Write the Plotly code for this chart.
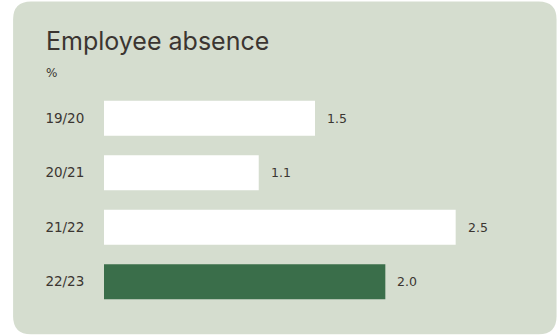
import plotly.graph_objects as go

# Data
periods = ["19/20", "20/21", "21/22", "22/23"]
absence_pct = [1.5, 1.1, 2.5, 2.0]
bar_colors = ["#ffffff", "#ffffff", "#ffffff", "#3a6e4a"]

TEXT = "#3b3531"
PANEL = "#d5ddcf"
FONT = "Inter"
LABEL_FONT = "DejaVu Sans"

W, H = 558, 335
ML, MT = 104, 91.3
PW, PH = 422.4, 217.4
MR = W - ML - PW
MB = H - MT - PH


def px(x):
    return (x - ML) / PW


def py(y):
    return (MT + PH - y) / PH


def panel_path(x0, y0, x1, y1, r):
    rx, ry = r / PW, r / PH
    a, b, c, d = px(x0), px(x1), py(y0), py(y1)  # left, right, top, bottom
    return (
        f"M {a + rx},{c} L {b - rx},{c} Q {b},{c} {b},{c - ry} "
        f"L {b},{d + ry} Q {b},{d} {b - rx},{d} "
        f"L {a + rx},{d} Q {a},{d} {a},{d + ry} "
        f"L {a},{c - ry} Q {a},{c} {a + rx},{c} Z"
    )


fig = go.Figure(
    go.Bar(
        x=absence_pct,
        y=periods,
        orientation="h",
        marker=dict(color=bar_colors, line=dict(width=0)),
        hoverinfo="skip",
    )
)

for v, p in zip(absence_pct, periods):
    fig.add_annotation(
        x=v, y=p, xref="x", yref="y", text=f"{v:.1f}",
        showarrow=False, xanchor="left", xshift=10,
        font=dict(family=LABEL_FONT, size=12.5, color=TEXT),
    )

fig.add_annotation(
    x=px(44), y=py(41), xref="paper", yref="paper", text="Employee absence",
    showarrow=False, xanchor="left", yanchor="middle",
    font=dict(family=FONT, size=25, color=TEXT),
)
fig.add_annotation(
    x=px(44), y=py(73), xref="paper", yref="paper", text="%",
    showarrow=False, xanchor="left", yanchor="middle",
    font=dict(family=LABEL_FONT, size=12, color=TEXT),
)

fig.add_shape(
    type="path", path=panel_path(13, 2, 557, 334, 18),
    xref="paper", yref="paper", layer="below",
    fillcolor=PANEL, line=dict(width=0),
)

fig.update_layout(
    width=W, height=H,
    margin=dict(l=ML, r=MR, t=MT, b=MB, pad=0),
    paper_bgcolor="#ffffff",
    plot_bgcolor="rgba(0,0,0,0)",
    showlegend=False,
    bargap=0.355,
    xaxis=dict(range=[0, 3], visible=False, fixedrange=True),
    yaxis=dict(
        autorange="reversed", showgrid=False, zeroline=False, showline=False,
        ticks="outside", ticklen=16, tickcolor="rgba(0,0,0,0)",
        tickfont=dict(family=LABEL_FONT, size=13.5, color=TEXT), fixedrange=True,
    ),
)

fig.write_html("out.html", config={"displayModeBar": False})
